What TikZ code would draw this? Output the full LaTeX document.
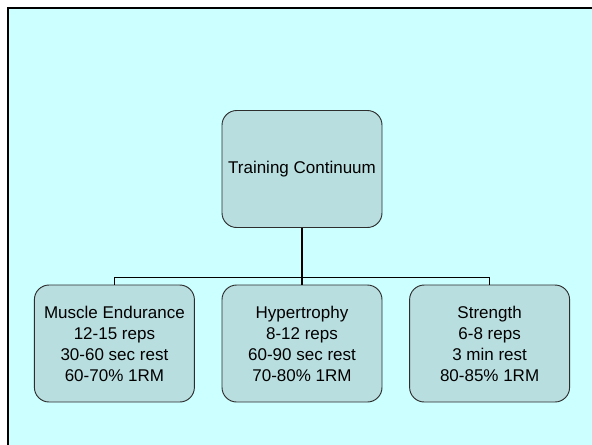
\documentclass[tikz,border=0pt]{standalone}
\usepackage{fontspec}
\setmainfont{Liberation Sans}
\usetikzlibrary{positioning}
\definecolor{paneback}{RGB}{204,255,255}
\definecolor{boxfill}{RGB}{185,222,224}
\definecolor{boxline}{RGB}{45,45,45}
\tikzset{
  phasebox/.style={draw=boxline, fill=boxfill, line width=0.7pt, rounded corners=11pt,
    minimum width=120pt, minimum height=87.75pt, inner sep=0pt, align=center,
    font=\fontsize{12.75pt}{15.75pt}\selectfont},
  trunk/.style={line width=1.5pt},
  branch/.style={line width=1pt},
}
\begin{document}
\begin{tikzpicture}[x=0.75pt,y=-0.75pt]
  \useasboundingbox (0,0) rectangle (592,444);
  \clip (0,0) rectangle (592,444);
  \fill[white] (0,0) rectangle (592,444);
  \draw[line width=1.5pt, fill=paneback] (7.5,8) rectangle (610,460);
  % top of the chart
  \node[phasebox] (cont) at (302,169) {Training Continuum};
  % the three phases
  \node[phasebox] (hyper) at (302,343.5) {Hypertrophy\\8-12 reps\\60-90 sec rest\\70-80\% 1RM};
  \node[phasebox, left=20pt of hyper] (endur) {Muscle Endurance\\12-15 reps\\30-60 sec rest\\60-70\% 1RM};
  \node[phasebox, right=20pt of hyper] (stren) {Strength\\6-8 reps\\3 min rest\\80-85\% 1RM};
  \coordinate (fork) at (302,277.5);
  \draw[trunk] (cont.south) -- (fork);
  \draw[branch] (endur.north) |- (fork) -| (stren.north);
  \draw[branch] (fork) -- (hyper.north);
\end{tikzpicture}
\end{document}
